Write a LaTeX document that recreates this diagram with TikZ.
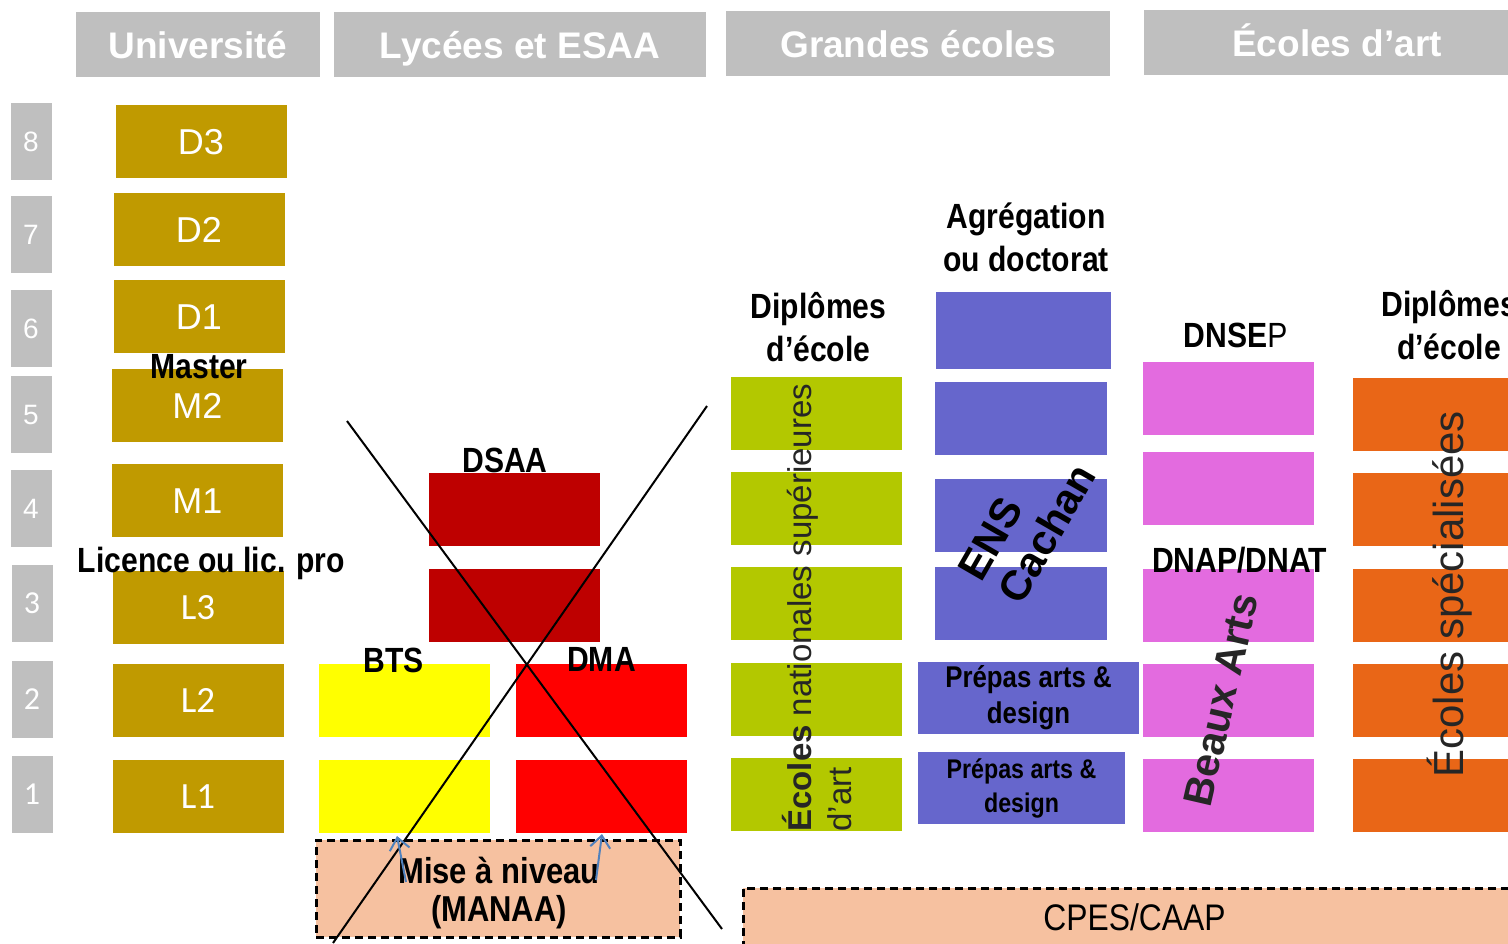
\documentclass[tikz,border=0pt]{standalone}
\usepackage{fontspec}
\setmainfont{Liberation Sans}
\newfontfamily\narrowfont[FakeStretch=0.86]{Liberation Sans}
\newfontfamily\calibfont{Carlito}
\usepackage{tikz}
\usetikzlibrary{arrows.meta}

\definecolor{lvlgray}{HTML}{BFBFBF}
\definecolor{univgold}{HTML}{C09A00}
\definecolor{dsaared}{HTML}{BE0000}
\definecolor{btsyellow}{HTML}{FFFF00}
\definecolor{dmared}{HTML}{FF0000}
\definecolor{ensagreen}{HTML}{B3C800}
\definecolor{enspurple}{HTML}{6666CC}
\definecolor{bapink}{HTML}{E36BDF}
\definecolor{specorange}{HTML}{E96617}
\definecolor{prepapeach}{HTML}{F6C1A0}
\definecolor{arrowblue}{HTML}{4F81BD}
\definecolor{darktext}{HTML}{262626}

\tikzset{
header/.style={fill=lvlgray, text=white, inner sep=0pt, minimum height=32.5pt, text height=13.5pt, text depth=0pt, font=\fontsize{18.5pt}{22pt}\selectfont\bfseries},
lvlbox/.style={fill=lvlgray, text=white, inner sep=0pt, minimum width=20.5pt, minimum height=38.5pt, text height=10pt, text depth=0pt, font=\fontsize{14pt}{16pt}\selectfont},
slab/.style={minimum width=85.5pt, minimum height=36.5pt, inner sep=0pt},
bar/.style={slab, text=white, text height=13pt, text depth=0pt, font=\fontsize{18pt}{21pt}\selectfont},
tag/.style={inner sep=0pt, align=center, font=\narrowfont\fontsize{17.5pt}{21.5pt}\selectfont\bfseries},
dashbox/.style={fill=prepapeach, draw=black, line width=1.5pt, dash pattern=on 4pt off 2.5pt, inner sep=0pt},
cross/.style={line width=1pt},
upflow/.style={arrowblue, line width=1pt, -{Straight Barb[length=6pt,width=10pt]}}
}

\begin{document}
\begin{tikzpicture}[x=0.5pt,y=-0.5pt]
\useasboundingbox (0,0) rectangle (1508,943);
\clip (0,0) rectangle (1508,943);

\node[header, minimum width=122pt] (hUni) at (198,44.5) {Université};
\node[header, minimum width=186pt] (hLyc) at (520,44.5) {Lycées et ESAA};
\node[header, minimum width=192pt] (hGE) at (918,43.5) {Grandes écoles};
\node[header, minimum width=193pt] (hArt) at (1337,42.5) {Écoles d’art};

\foreach \n/\y in {8/141.5,7/234.5,6/328,5/414,4/508.5}{
\node[lvlbox] (lvl\n) at (31,\y) {\n};
}
\foreach \n/\y in {3/603.5,2/699.5,1/794.5}{
\node[lvlbox, font=\calibfont\fontsize{16pt}{18pt}\selectfont] (lvl\n) at (32,\y) {\n};
}

\foreach \n/\x/\y in {D3/201/141.5,D2/199/229.5,D1/199/316.5,M2/197.5/405.5,M1/197.5/500.5}{
\node[bar, fill=univgold] (\n) at (\x,\y) {\n};
}
\foreach \n/\y in {L3/607,L2/700.5,L1/796}{
\node[bar, fill=univgold, text height=12pt, font=\calibfont\fontsize{18.5pt}{21pt}\selectfont] (\n) at (198,\y) {\n};
}
\node[tag, anchor=base] (lblMaster) at (199,378) {Master};
\node[tag, anchor=base] (lblLicence) at (211.5,572) {Licence ou lic. pro};

\node[slab, fill=dsaared] (dsaaA) at (514,509.5) {};
\node[slab, fill=dsaared] (dsaaB) at (514,605) {};
\node[tag, anchor=base] (lblDSAA) at (505,472) {DSAA};
\foreach \r/\y in {A/700.5,B/796}{
\node[slab, fill=btsyellow] (bts\r) at (404,\y) {};
\node[slab, fill=dmared] (dma\r) at (601.5,\y) {};
}
\node[tag, anchor=base] (lblBTS) at (393.5,672) {BTS};
\node[tag, anchor=base] (lblDMA) at (601.5,671) {DMA};
\node[dashbox, minimum width=182pt, minimum height=48.5pt] (manaa) at (498,888.5) {};
\node[tag, font=\narrowfont\fontsize{18pt}{19pt}\selectfont\bfseries] (lblManaa) at (499,893) {Mise à niveau\\(MANAA)};

\coordinate (crossNW) at (347,421);
\coordinate (crossSE) at (722,929);
\coordinate (crossNE) at (707,406);
\coordinate (crossSW) at (333,943);
\draw[cross] (crossNW) -- (crossSE);
\draw[cross] (crossNE) -- (crossSW);

\coordinate (manaaL) at (406,882);
\coordinate (manaaR) at (596,880);
\coordinate (btsIn) at (397,836);
\coordinate (dmaIn) at (602,834);
\draw[upflow] (manaaL) -- (btsIn);
\draw[upflow] (manaaR) -- (dmaIn);

\foreach \r/\y in {A/413.5,B/508.5,C/603.5,D/699.5,E/794.5}{
\node[slab, fill=ensagreen] (ensa\r) at (816.5,\y) {};
}
\node[tag] (lblDiplGE) at (818.5,327) {Diplômes\\d’école};
\node[rotate=90, anchor=north west, inner sep=0pt, align=left, text=darktext, font=\fontsize{16.5pt}{20pt}\selectfont] (lblENSA) at (782,832) {\textbf{Écoles} nationales supérieures\\d’art};

\node[slab, fill=enspurple, minimum width=87.5pt, minimum height=38.5pt] (ensA) at (1023.5,330.5) {};
\foreach \r/\y in {B/418,C/515.5,D/603.5}{
\node[slab, fill=enspurple, minimum width=86pt] (ens\r) at (1021,\y) {};
}
\node[slab, fill=enspurple, minimum width=110.5pt, minimum height=36pt, align=center, font=\narrowfont\fontsize{15pt}{18pt}\selectfont\bfseries] (prepA) at (1028.5,698) {Prépas arts \&\\design};
\node[slab, fill=enspurple, minimum width=103.5pt, minimum height=36pt, align=center, font=\narrowfont\fontsize{13.5pt}{17pt}\selectfont\bfseries] (prepB) at (1021.5,788) {Prépas arts \&\\design};
\node[tag] (lblAgreg) at (1026,237) {Agrégation\\ou doctorat};
\node[rotate=60, inner sep=0pt, align=left, font=\fontsize{21pt}{23pt}\selectfont\bfseries] (lblENS) at (1027,522) {ENS\\Cachan};

\foreach \r/\y in {A/398.5,B/488.5,C/605.5,D/700,E/795.5}{
\node[slab, fill=bapink] (ba\r) at (1228.5,\y) {};
}
\node[tag, anchor=base] (lblDNSEP) at (1235.5,347) {DNSE{\mdseries P}};
\node[tag, anchor=base] (lblDNAP) at (1239.5,572) {DNAP/DNAT};
\node[rotate=77, inner sep=0pt, text=darktext, font=\fontsize{20.5pt}{24pt}\selectfont\bfseries] (lblBA) at (1221,700) {Beaux Arts};

\foreach \r/\y in {A/414.5,B/509.5,C/605.5,D/700.5,E/795.5}{
\node[slab, fill=specorange] (spec\r) at (1438.5,\y) {};
}
\node[tag] (lblDiplArt) at (1449,325) {Diplômes\\d’école};
\node[rotate=90, anchor=base west, inner sep=0pt, text=darktext, font=\fontsize{21pt}{24pt}\selectfont] (lblSpec) at (1463,778) {Écoles spécialisées};

\node[dashbox, minimum width=391.5pt, minimum height=29pt, font=\narrowfont\fontsize{18.5pt}{22pt}\selectfont] (cpes) at (1134.5,917) {CPES/CAAP};

\end{tikzpicture}
\end{document}
